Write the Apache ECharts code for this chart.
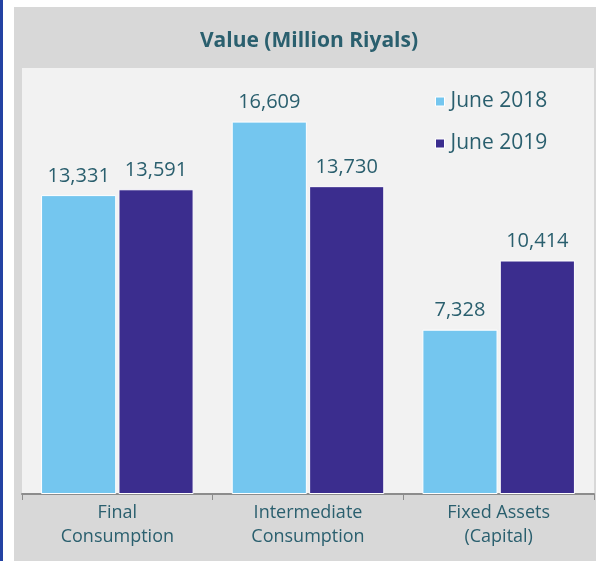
<!DOCTYPE html>
<html>
<head>
<meta charset="utf-8">
<script src="https://cdn.jsdelivr.net/npm/echarts@6/dist/echarts.min.js"></script>
<style>
  html, body { margin: 0; padding: 0; background: #fff; }
  #chart { width: 596px; height: 561px; }
</style>
</head>
<body>
<div id="chart"></div>
<script>
// 数据
const categories = ['Final\nConsumption', 'Intermediate\nConsumption', 'Fixed Assets\n(Capital)']
const june2018 = [13331, 16609, 7328]
const june2019 = [13591, 13730, 10414]
const seriesNames = ['June 2018', 'June 2019']

const textColor = '#2a5f6e'
const font = '"Open Sans", "Noto Sans", sans-serif'

const chart = echarts.init(document.getElementById('chart'))

const label = {
  show: true,
  position: 'top',
  distance: 9,
  color: textColor,
  fontSize: 20,
  fontFamily: font,
  formatter: (p) => p.value.toLocaleString('en-US'),
}

chart.setOption({
  backgroundColor: '#ffffff',
  animation: false,
  // 背景面板 + 左侧蓝条
  graphic: [
    { type: 'rect', shape: { x: 0, y: 0, width: 3, height: 561 }, style: { fill: '#2342a3' }, z: -10 },
    { type: 'rect', shape: { x: 14, y: 7, width: 582, height: 554 }, style: { fill: '#d8d8d8' }, z: -10 },
  ],
  title: {
    text: 'Value (Million Riyals)',
    left: 304,
    top: 26,
    textAlign: 'center',
    textStyle: { color: textColor, fontSize: 21, fontWeight: 'bold', fontFamily: font },
  },
  legend: {
    orient: 'vertical',
    left: 430,
    top: 86,
    itemWidth: 9,
    itemHeight: 9,
    itemGap: 21,
    icon: 'rect',
    textStyle: { color: textColor, fontSize: 21, fontFamily: font, padding: [0, 0, 0, 1] },
    itemStyle: { borderColor: '#fff', borderWidth: 1 },
    data: seriesNames,
  },
  grid: {
    left: 22,
    right: 2,
    top: 68,
    bottom: 67,
    show: true,
    backgroundColor: '#f2f2f2',
    borderWidth: 0,
  },
  xAxis: {
    type: 'category',
    data: categories,
    axisLine: { lineStyle: { color: '#8c8c8c', width: 2 } },
    axisTick: { show: true, length: 6, lineStyle: { color: '#8c8c8c', width: 1 } },
    axisLabel: { color: textColor, fontSize: 18, fontFamily: font, lineHeight: 24, margin: 7 },
  },
  yAxis: {
    type: 'value',
    min: 0,
    max: 19000,
    show: false,
    splitLine: { show: false },
  },
  series: [
    {
      name: seriesNames[0],
      type: 'bar',
      data: june2018,
      barGap: '3%',
      barCategoryGap: '20%',
      itemStyle: { color: '#74c6ef', borderColor: '#fff', borderWidth: 1 },
      label,
    },
    {
      name: seriesNames[1],
      type: 'bar',
      data: june2019,
      itemStyle: { color: '#3b2d8e', borderColor: '#fff', borderWidth: 1 },
      label,
    },
  ],
})
</script>
</body>
</html>
